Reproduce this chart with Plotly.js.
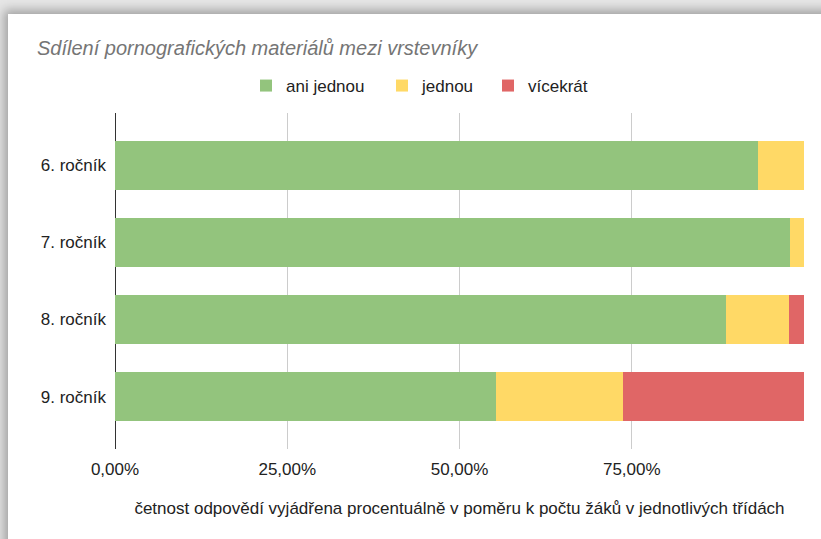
<!DOCTYPE html>
<html>
<head>
<meta charset="utf-8">
<script src="https://cdn.plot.ly/plotly-3.0.1.min.js"></script>
<style>
  html, body { margin: 0; padding: 0; width: 821px; height: 539px; overflow: hidden; background: #e6e6e6; }
  #card { position: absolute; left: 8px; top: 14px; width: 860px; height: 580px; background: #fff;
          box-shadow: 0 0 10px 4px rgba(0,0,0,0.30); }
  #chart { position: absolute; left: 0; top: 0; width: 821px; height: 539px; }
</style>
</head>
<body>
<div id="card"></div>
<div id="chart"></div>
<script>
const categories = ['6. ročník', '7. ročník', '8. ročník', '9. ročník'];
const seriesNames = ['ani jednou', 'jednou', 'vícekrát'];
const aniJednou = [0.933, 0.980, 0.887, 0.553];
const jednou   = [0.067, 0.020, 0.091, 0.185];
const vicekrat = [0.000, 0.000, 0.022, 0.262];
const tickVals = [0, 0.25, 0.5, 0.75, 1];
const tickText = ['0,00%', '25,00%', '50,00%', '75,00%', ''];
const titleText = 'Sdílení pornografických materiálů mezi vrstevníky';
const xTitleText = 'četnost odpovědí vyjádřena procentuálně v poměru k počtu žáků v jednotlivých třídách';

const colors = ['#93c47d', '#ffd966', '#e06666'];
const values = [aniJednou, jednou, vicekrat];
const legendIds = ['legend', 'legend2', 'legend3'];
const legendX = [246, 382, 488];

const traces = values.map((v, i) => ({
  type: 'bar', orientation: 'h', x: v, y: categories, name: seriesNames[i],
  legend: legendIds[i],
  marker: { color: colors[i], line: { width: 0 } }, hoverinfo: 'x+y+name'
}));

function legendBox(px) {
  return {
    orientation: 'h', xref: 'container', yref: 'container',
    x: px / 821, xanchor: 'left', y: 1 - 86 / 539, yanchor: 'middle',
    font: { size: 17, color: '#222222' }, itemclick: false,
    bgcolor: 'rgba(0,0,0,0)', itemwidth: 30
  };
}

const layout = {
  width: 821, height: 539,
  paper_bgcolor: 'rgba(0,0,0,0)', plot_bgcolor: 'rgba(0,0,0,0)',
  font: { family: 'Liberation Sans, Arial, sans-serif', size: 17, color: '#222222' },
  separators: ', ',
  barmode: 'stack', bargap: 0.36,
  margin: { l: 115, r: 17, t: 113, b: 90, pad: 0 },
  title: {
    text: titleText, x: 37 / 821, xanchor: 'left', xref: 'container',
    y: 1 - 48 / 539, yanchor: 'middle', yref: 'container',
    font: { family: 'Liberation Sans, Arial, sans-serif', size: 20, color: '#757575', style: 'italic' }
  },
  showlegend: true,
  legend: legendBox(legendX[0]),
  legend2: legendBox(legendX[1]),
  legend3: legendBox(legendX[2]),
  xaxis: {
    range: [0, 1], tickvals: tickVals, ticktext: tickText,
    showgrid: true, gridcolor: '#cccccc', gridwidth: 1,
    zeroline: true, zerolinecolor: '#333333', zerolinewidth: 1,
    showline: false, ticks: '', ticklabelstandoff: 8,
    tickfont: { size: 17, color: '#222222' },
    automargin: false,
    title: { text: xTitleText, standoff: 24, font: { size: 17, color: '#222222' } }
  },
  yaxis: {
    type: 'category', autorange: false, range: [3.68, -0.68],
    showgrid: false, zeroline: false, showline: false, ticks: '',
    ticklabelstandoff: 8, automargin: false,
    tickfont: { size: 17, color: '#222222' }
  }
};

Plotly.newPlot('chart', traces, layout, { displayModeBar: false, staticPlot: false });
</script>
</body>
</html>
